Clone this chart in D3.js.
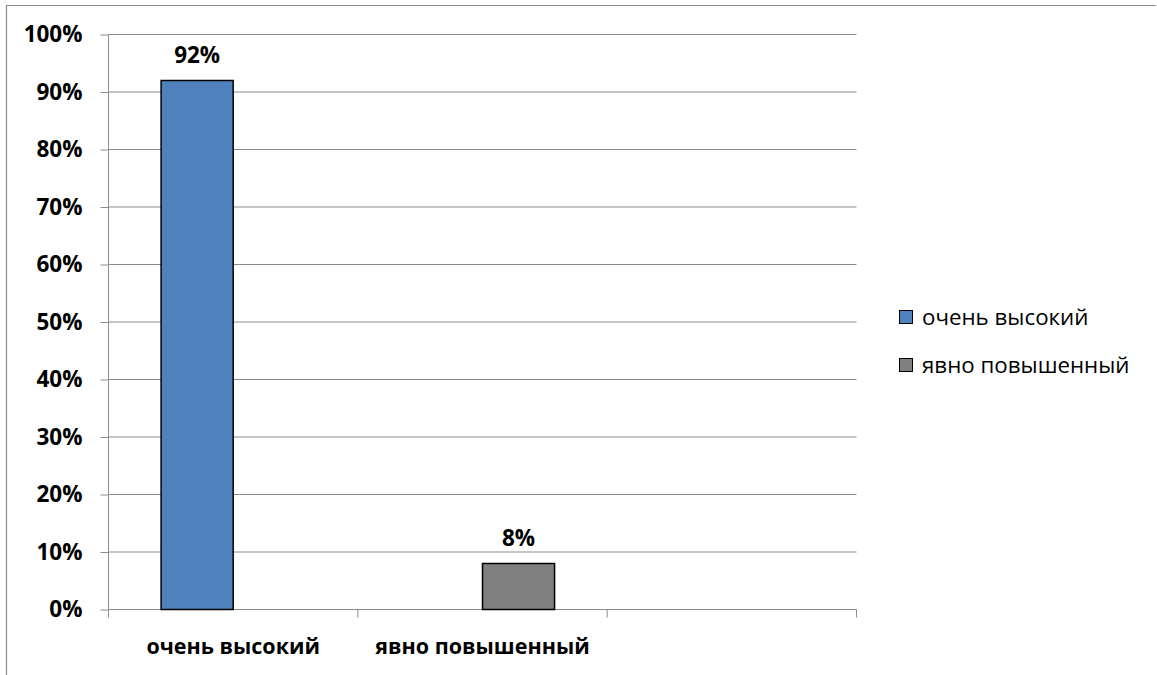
<!DOCTYPE html>
<html>
<head>
<meta charset="utf-8">
<script src="https://cdn.jsdelivr.net/npm/d3@7/dist/d3.min.js"></script>
<style>
  html, body { margin: 0; padding: 0; background: #fff; }
  svg { display: block; }
  text { font-family: "Open Sans", "DejaVu Sans", sans-serif; fill: #000; }
</style>
</head>
<body>
<svg id="chart" width="1157" height="675"></svg>
<script>
// Categories on the x axis (third slot is an empty category)
const categories = ["очень высокий", "явно повышенный", ""];
// Series names shown in the legend
const seriesNames = ["очень высокий", "явно повышенный"];
// Values per series, one per category (null = no value)
const seriesValues = [
  [92, null, null],
  [null, 8, null]
];
const seriesColors = ["#4f81bd", "#808080"];
// Y axis tick values (percent)
const yTicks = [0, 10, 20, 30, 40, 50, 60, 70, 80, 90, 100];

const svg = d3.select("#chart");
const W = 1157, H = 675;
const plot = { left: 108.5, right: 856.5, top: 34.5, bottom: 609.5 };

// Outer chart frame (top and left edges visible)
svg.append("path")
  .attr("d", `M6.5,${H} V5.5 H1156`)
  .attr("fill", "none")
  .attr("stroke", "#8c8c8c")
  .attr("stroke-width", 1.2);

const x = d3.scaleBand().domain(d3.range(categories.length))
  .range([plot.left, plot.right]).padding(0);
const xs = d3.scaleBand().domain(d3.range(seriesNames.length))
  .range([0, x.bandwidth()]).paddingInner(0).paddingOuter(0.73);
const y = d3.scaleLinear().domain([0, 100]).range([plot.bottom, plot.top]);

// Horizontal gridlines
svg.append("g").selectAll("line").data(yTicks.filter(d => d > 0)).join("line")
  .attr("x1", plot.left).attr("x2", plot.right)
  .attr("y1", d => y(d)).attr("y2", d => y(d))
  .attr("stroke", "#8c8c8c").attr("stroke-width", 1);

// Y axis
const yAxis = svg.append("g")
  .attr("transform", `translate(${plot.left},0)`)
  .call(d3.axisLeft(y).tickValues(yTicks).tickFormat(d => d + "%").tickSize(8).tickPadding(18));
yAxis.select(".domain").attr("stroke", "#8c8c8c").attr("d", `M0,${plot.top}V${plot.bottom}`);
yAxis.selectAll(".tick line").attr("stroke", "#8c8c8c");
yAxis.selectAll(".tick text")
  .style("font-family", '"Open Sans", sans-serif')
  .style("font-weight", "bold").style("font-size", "22.5px").attr("fill", "#000");

// X axis with ticks at category boundaries
const xAxisG = svg.append("g").attr("transform", `translate(0,${plot.bottom})`);
xAxisG.append("line").attr("x1", plot.left).attr("x2", plot.right)
  .attr("stroke", "#8c8c8c");
const bounds = d3.range(categories.length + 1).map(i => i < categories.length ? x(i) : x(i - 1) + x.bandwidth());
xAxisG.selectAll("line.tk").data(bounds).join("line").attr("class", "tk")
  .attr("x1", d => d).attr("x2", d => d).attr("y1", 0).attr("y2", 8)
  .attr("stroke", "#8c8c8c");
xAxisG.selectAll("text").data(categories).join("text")
  .attr("x", (d, i) => x(i) + x.bandwidth() / 2)
  .attr("y", 44)
  .attr("text-anchor", "middle")
  .style("font-weight", "bold").style("font-size", "21.5px")
  .text(d => d);

// Bars
const bars = [];
seriesValues.forEach((vals, s) => vals.forEach((v, c) => { if (v != null) bars.push({ s, c, v }); }));
svg.append("g").selectAll("rect").data(bars).join("rect")
  .attr("x", d => x(d.c) + xs(d.s))
  .attr("width", xs.bandwidth())
  .attr("y", d => y(d.v))
  .attr("height", d => y(0) - y(d.v))
  .attr("fill", d => seriesColors[d.s])
  .attr("stroke", "#000").attr("stroke-width", 1.5);

// Value labels above bars
svg.append("g").selectAll("text").data(bars).join("text")
  .attr("x", d => x(d.c) + xs(d.s) + xs.bandwidth() / 2)
  .attr("y", d => y(d.v) - 18)
  .attr("text-anchor", "middle")
  .style("font-weight", "bold").style("font-size", "22.5px")
  .text(d => d.v + "%");

// Legend
const legend = svg.append("g").selectAll("g").data(seriesNames).join("g")
  .attr("transform", (d, i) => `translate(899,${310 + i * 48})`);
legend.append("rect").attr("width", 13).attr("height", 13)
  .attr("x", 0.5).attr("y", 0.5)
  .attr("fill", (d, i) => seriesColors[i]).attr("stroke", "#000").attr("stroke-width", 1);
legend.append("text").attr("x", 23).attr("y", 15)
  .style("font-size", "22.3px")
  .text(d => d);
</script>
</body>
</html>
